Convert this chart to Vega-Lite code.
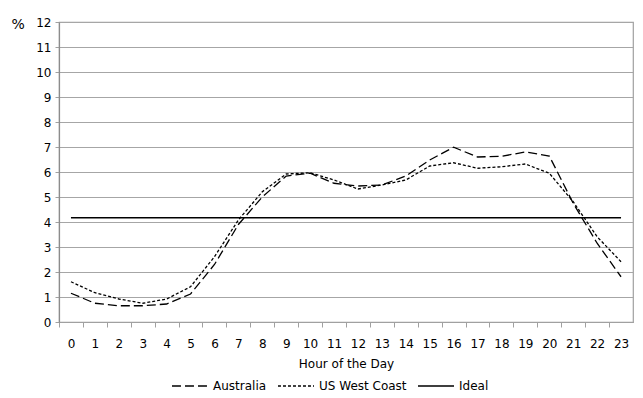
{
  "$schema": "https://vega.github.io/schema/vega-lite/v6.json",
  "width": 574,
  "height": 300,
  "autosize": {"type": "none"},
  "padding": {"left": 59, "top": 22, "right": 10, "bottom": 76},
  "background": "white",
  "config": {
    "font": "DejaVu Sans",
    "view": {"stroke": "#a0a0a0", "strokeWidth": 1.2},
    "axis": {"labelFont": "DejaVu Sans", "titleFont": "DejaVu Sans", "labelColor": "black", "titleColor": "black", "labelFontSize": 12, "titleFontSize": 12, "titleFontWeight": "normal"}
  },
  "data": {
    "values": [
      {"hour": 0, "series": "Australia", "value": 1.15},
      {"hour": 1, "series": "Australia", "value": 0.75},
      {"hour": 2, "series": "Australia", "value": 0.65},
      {"hour": 3, "series": "Australia", "value": 0.65},
      {"hour": 4, "series": "Australia", "value": 0.72},
      {"hour": 5, "series": "Australia", "value": 1.12},
      {"hour": 6, "series": "Australia", "value": 2.3},
      {"hour": 7, "series": "Australia", "value": 3.9},
      {"hour": 8, "series": "Australia", "value": 5.0},
      {"hour": 9, "series": "Australia", "value": 5.84},
      {"hour": 10, "series": "Australia", "value": 5.95},
      {"hour": 11, "series": "Australia", "value": 5.55},
      {"hour": 12, "series": "Australia", "value": 5.44},
      {"hour": 13, "series": "Australia", "value": 5.48},
      {"hour": 14, "series": "Australia", "value": 5.84},
      {"hour": 15, "series": "Australia", "value": 6.48},
      {"hour": 16, "series": "Australia", "value": 6.99},
      {"hour": 17, "series": "Australia", "value": 6.6},
      {"hour": 18, "series": "Australia", "value": 6.63},
      {"hour": 19, "series": "Australia", "value": 6.8},
      {"hour": 20, "series": "Australia", "value": 6.64},
      {"hour": 21, "series": "Australia", "value": 4.75},
      {"hour": 22, "series": "Australia", "value": 3.15},
      {"hour": 23, "series": "Australia", "value": 1.81},
      {"hour": 0, "series": "US West Coast", "value": 1.61},
      {"hour": 1, "series": "US West Coast", "value": 1.17},
      {"hour": 2, "series": "US West Coast", "value": 0.92},
      {"hour": 3, "series": "US West Coast", "value": 0.75},
      {"hour": 4, "series": "US West Coast", "value": 0.92},
      {"hour": 5, "series": "US West Coast", "value": 1.41},
      {"hour": 6, "series": "US West Coast", "value": 2.61},
      {"hour": 7, "series": "US West Coast", "value": 4.08},
      {"hour": 8, "series": "US West Coast", "value": 5.21},
      {"hour": 9, "series": "US West Coast", "value": 5.92},
      {"hour": 10, "series": "US West Coast", "value": 5.97},
      {"hour": 11, "series": "US West Coast", "value": 5.68},
      {"hour": 12, "series": "US West Coast", "value": 5.32},
      {"hour": 13, "series": "US West Coast", "value": 5.48},
      {"hour": 14, "series": "US West Coast", "value": 5.68},
      {"hour": 15, "series": "US West Coast", "value": 6.24},
      {"hour": 16, "series": "US West Coast", "value": 6.37},
      {"hour": 17, "series": "US West Coast", "value": 6.15},
      {"hour": 18, "series": "US West Coast", "value": 6.21},
      {"hour": 19, "series": "US West Coast", "value": 6.32},
      {"hour": 20, "series": "US West Coast", "value": 5.95},
      {"hour": 21, "series": "US West Coast", "value": 4.81},
      {"hour": 22, "series": "US West Coast", "value": 3.41},
      {"hour": 23, "series": "US West Coast", "value": 2.41},
      {"hour": 0, "series": "Ideal", "value": 4.17},
      {"hour": 1, "series": "Ideal", "value": 4.17},
      {"hour": 2, "series": "Ideal", "value": 4.17},
      {"hour": 3, "series": "Ideal", "value": 4.17},
      {"hour": 4, "series": "Ideal", "value": 4.17},
      {"hour": 5, "series": "Ideal", "value": 4.17},
      {"hour": 6, "series": "Ideal", "value": 4.17},
      {"hour": 7, "series": "Ideal", "value": 4.17},
      {"hour": 8, "series": "Ideal", "value": 4.17},
      {"hour": 9, "series": "Ideal", "value": 4.17},
      {"hour": 10, "series": "Ideal", "value": 4.17},
      {"hour": 11, "series": "Ideal", "value": 4.17},
      {"hour": 12, "series": "Ideal", "value": 4.17},
      {"hour": 13, "series": "Ideal", "value": 4.17},
      {"hour": 14, "series": "Ideal", "value": 4.17},
      {"hour": 15, "series": "Ideal", "value": 4.17},
      {"hour": 16, "series": "Ideal", "value": 4.17},
      {"hour": 17, "series": "Ideal", "value": 4.17},
      {"hour": 18, "series": "Ideal", "value": 4.17},
      {"hour": 19, "series": "Ideal", "value": 4.17},
      {"hour": 20, "series": "Ideal", "value": 4.17},
      {"hour": 21, "series": "Ideal", "value": 4.17},
      {"hour": 22, "series": "Ideal", "value": 4.17},
      {"hour": 23, "series": "Ideal", "value": 4.17}
    ]
  },
  "mark": {"type": "line", "strokeWidth": 1.3, "color": "black"},
  "encoding": {
    "x": {
      "field": "hour",
      "type": "ordinal",
      "scale": {"type": "band", "paddingInner": 0, "paddingOuter": 0},
      "axis": {
        "title": "Hour of the Day",
        "labelAngle": 0,
        "tickOffset": -12,
        "labelOffset": 12,
        "domainColor": "#a0a0a0",
        "domainWidth": 1.2,
        "tickColor": "#a0a0a0",
        "tickSize": 5,
        "labelPadding": 11,
        "titlePadding": 9,
        "grid": false
      }
    },
    "y": {
      "field": "value",
      "type": "quantitative",
      "scale": {"domain": [0, 12], "nice": false},
      "axis": {
        "title": "%",
        "titleAngle": 0,
        "titleAlign": "left",
        "titleBaseline": "middle",
        "titleX": -48,
        "titleY": 2,
        "titleFontSize": 14,
        "values": [0, 1, 2, 3, 4, 5, 6, 7, 8, 9, 10, 11, 12],
        "gridColor": "#a6a6a6",
        "gridWidth": 1.2,
        "domainColor": "#8c8c8c",
        "domainWidth": 1.2,
        "tickColor": "#a0a0a0",
        "tickSize": 4,
        "labelPadding": 4
      }
    },
    "strokeDash": {
      "field": "series",
      "type": "nominal",
      "scale": {"domain": ["Australia", "US West Coast", "Ideal"], "range": [[9, 4], [3, 2], [1, 0]]},
      "legend": {
        "title": null,
        "orient": "none",
        "direction": "horizontal",
        "legendX": 112,
        "legendY": 345,
        "symbolType": "stroke",
        "symbolSize": 1300,
        "symbolStrokeWidth": 1.3,
        "symbolStrokeColor": "black",
        "labelFontSize": 12,
        "labelFont": "DejaVu Sans",
        "labelColor": "black",
        "columnPadding": 8,
        "labelOffset": 4
      }
    }
  }
}
